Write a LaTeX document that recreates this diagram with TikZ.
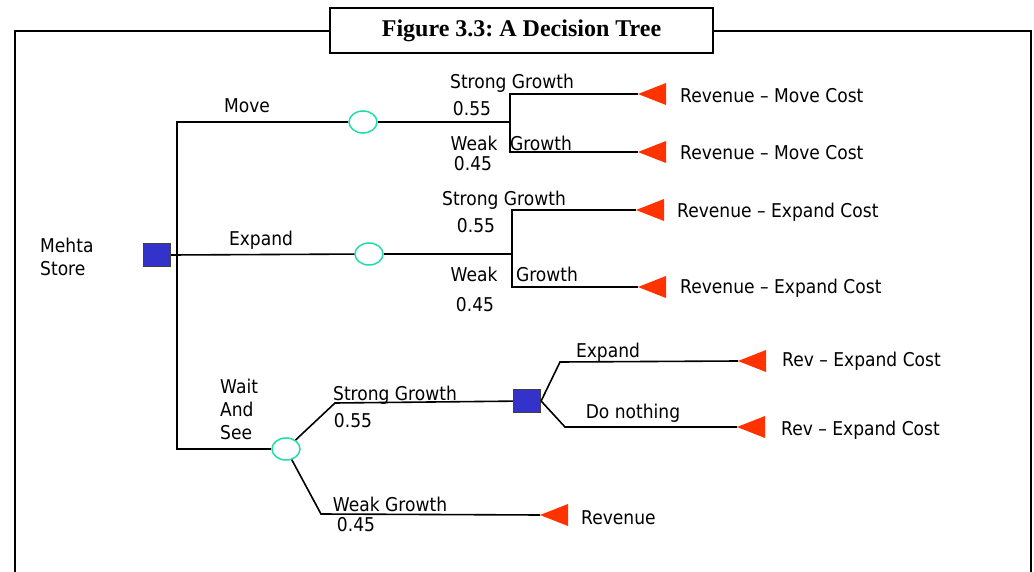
\documentclass[tikz,border=0pt]{standalone}
\usepackage{fontspec}
\setmainfont{DejaVu Sans}[FakeStretch=0.9]
\newfontfamily\titlefont{Liberation Serif}
\usetikzlibrary{shapes.geometric}
\frenchspacing
\definecolor{decblue}{HTML}{3333CC}
\definecolor{chancegreen}{HTML}{22DDAA}
\definecolor{endred}{HTML}{FF3300}
\tikzset{
  lbl/.style={font=\fontsize{19}{23}\selectfont, inner sep=0pt, align=left},
  decision/.style={rectangle, draw=black!75, line width=1.2pt, fill=decblue, minimum width=27pt, minimum height=23pt, inner sep=0pt},
  chance/.style={ellipse, draw=chancegreen, line width=1.5pt, fill=white, minimum width=28pt, minimum height=22pt, inner sep=0pt},
  branch/.style={line width=1.6pt, black},
  endtri/.style={fill=endred},
}
\newcommand{\tipmark}[1]{\fill[endtri] (#1) -- ++(28,11) -- ++(0,-22) -- cycle;}
\begin{document}
\begin{tikzpicture}[x=1pt,y=-1pt]
\useasboundingbox (0,0) rectangle (1034,572);
\fill[white] (0,0) rectangle (1034,572);
% frame and title
\draw[line width=2pt] (15,620) -- (15,31) -- (1031,31) -- (1031,620);
\node[draw, line width=1.8pt, fill=white, minimum width=383pt, minimum height=45pt, inner sep=0pt,
      font=\titlefont\bfseries\fontsize{24}{26}\selectfont] (title) at (521.5,30.5) {Figure 3.3: A Decision Tree};

% nodes
\node[decision] (d0) at (157,255) {};
\node[chance] (c1) at (363,122) {};
\node[chance] (c2) at (369,254) {};
\node[chance] (c3) at (286,449) {};
\node[decision] (d1) at (527,401) {};

% junction and tip coordinates
\coordinate (j1) at (510,122);
\coordinate (j2) at (512,254);
\coordinate (t1) at (638,94);
\coordinate (t2) at (638,152);
\coordinate (t3) at (636,210);
\coordinate (t4) at (638,287);
\coordinate (t5) at (738,361);
\coordinate (t6) at (737,427);
\coordinate (t7) at (540,515);
\coordinate (k1) at (335,403);
\coordinate (k2) at (321,514);
\coordinate (k3) at (560,362);
\coordinate (k4) at (565,427);

% connectors
\draw[branch] (d0.east) -- (c2);
\draw[branch] (c1) -- (177,122) -- (177,449) -- (c3);
\draw[branch] (c1) -- (j1);
\draw[branch] (t1) -| (j1) |- (t2);
\draw[branch] (c2) -- (j2);
\draw[branch] (t3) -| (j2) |- (t4);
\draw[branch] (c3) -- (k1) -- (d1);
\draw[branch] (c3) -- (k2) -- (t7);
\draw[branch] (d1.east) -- (k3) -- (t5);
\draw[branch] (d1.east) -- (k4) -- (t6);

% end markers
\tipmark{t1}
\tipmark{t2}
\tipmark{t3}
\tipmark{t4}
\tipmark{t5}
\tipmark{t6}
\tipmark{t7}

% labels
\node[lbl, anchor=west] (lmehta) at (40,257) {Mehta\\Store};
\node[lbl] (lmove) at (247,106) {Move};
\node[lbl] (lexpand) at (261,240) {Expand};
\node[lbl, anchor=west] (lwait) at (220,409) {Wait\\And\\See};

\node[lbl] (s1) at (512,83) {Strong Growth};
\node[lbl] (p1) at (472,109) {0.55};
\node[lbl] (w1) at (474,143) {Weak};
\node[lbl] (g1) at (541,143) {Growth};
\node[lbl] (q1) at (473,164) {0.45};

\node[lbl] (s2) at (504,200) {Strong Growth};
\node[lbl] (p2) at (476,226) {0.55};
\node[lbl] (w2) at (474,274) {Weak};
\node[lbl] (g2) at (547,274) {Growth};
\node[lbl] (q2) at (475,305) {0.45};

\node[lbl] (s3) at (395,395) {Strong Growth};
\node[lbl] (p3) at (353,421) {0.55};
\node[lbl] (w3) at (390,504) {Weak Growth};
\node[lbl] (q3) at (356,525) {0.45};

\node[lbl] (le) at (608,352) {Expand};
\node[lbl] (ln) at (633,413) {Do nothing};

\node[lbl, anchor=west] (r1) at (680,96) {Revenue -- Move Cost};
\node[lbl, anchor=west] (r2) at (680,153) {Revenue -- Move Cost};
\node[lbl, anchor=west] (r3) at (677,212) {Revenue -- Expand Cost};
\node[lbl, anchor=west] (r4) at (680,288) {Revenue -- Expand Cost};
\node[lbl, anchor=west] (r5) at (782,361) {Rev -- Expand Cost};
\node[lbl, anchor=west] (r6) at (781,430) {Rev -- Expand Cost};
\node[lbl, anchor=west] (r7) at (581,518) {Revenue};
\end{tikzpicture}
\end{document}
